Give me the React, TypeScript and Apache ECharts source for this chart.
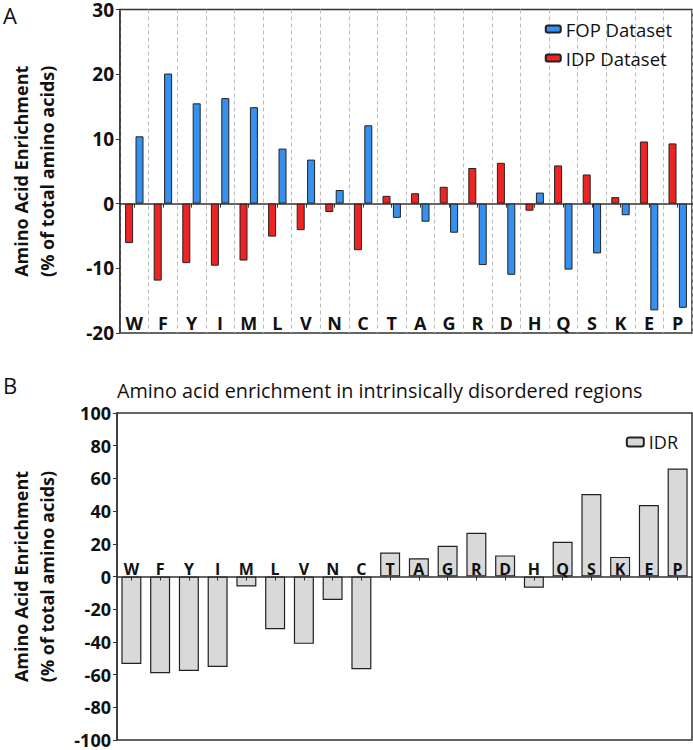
import React, { useEffect, useRef } from "react";
import * as echarts from "echarts";

const categories = ["W", "F", "Y", "I", "M", "L", "V", "N", "C", "T", "A", "G", "R", "D", "H", "Q", "S", "K", "E", "P"];
const fopValues = [10.4, 20.1, 15.5, 16.3, 14.9, 8.5, 6.8, 2.1, 12.1, -2.2, -2.8, -4.5, -9.5, -11.0, 1.7, -10.2, -7.7, -1.8, -16.5, -16.1];
const idpValues = [-6.1, -11.9, -9.2, -9.6, -8.8, -5.1, -4.1, -1.3, -7.2, 1.2, 1.6, 2.6, 5.5, 6.3, -1.1, 5.9, 4.5, 1.0, 9.6, 9.3];
const idrValues = [-53.5, -59.2, -57.8, -55.3, -6.1, -32.2, -41.2, -14.3, -56.7, 14.7, 11.2, 18.8, 26.7, 12.9, -6.9, 21.2, 50.4, 12.0, 43.7, 66.1];
const yTicksA = { min: -20, max: 30, interval: 10 };
const yTicksB = { min: -100, max: 100, interval: 20 };

const FONT = "Open Sans";
const AXIS = "#333";

export default function App() {
  const ref = useRef<HTMLDivElement>(null);
  useEffect(() => {
    if (!ref.current) return;
    const chart = echarts.init(ref.current, undefined, { renderer: "svg" });
    const yName = "Amino Acid Enrichment\n(% of total amino acids)";
    const option: any = {
      animation: false,
      textStyle: { fontFamily: FONT },
      grid: [
        { left: 115, top: 7, width: 577, height: 326, show: true, borderColor: AXIS, borderWidth: 1.5, backgroundColor: "transparent" },
        { left: 112, top: 413, width: 580, height: 327, show: true, borderColor: AXIS, borderWidth: 1.5, backgroundColor: "transparent" },
      ],
      legend: [
        {
          data: ["FOP Dataset", "IDP Dataset"],
          orient: "vertical",
          right: 16,
          top: 13,
          itemWidth: 15,
          itemHeight: 7,
          itemGap: 7,
          textStyle: { fontFamily: FONT, fontSize: 18.5, color: "#111", lineHeight: 22 },
        },
        {
          data: ["IDR"],
          orient: "vertical",
          right: 10,
          top: 428,
          itemWidth: 17,
          itemHeight: 9,
          textStyle: { fontFamily: FONT, fontSize: 18, color: "#111" },
        },
      ],
      xAxis: [
        {
          gridIndex: 0,
          type: "category",
          data: categories,
          axisLine: { onZero: true, lineStyle: { color: AXIS, width: 1.5 } },
          axisTick: { show: true, alignWithLabel: true, length: 4, lineStyle: { color: AXIS } },
          axisLabel: { show: false },
          splitLine: { show: true, interval: 0, lineStyle: { type: [4, 3], color: "#bbb", width: 1 } },
        },
        {
          gridIndex: 0,
          type: "category",
          data: categories,
          position: "bottom",
          axisLine: { show: false, onZero: false },
          axisTick: { show: false },
          axisLabel: { inside: true, margin: 1, interval: 0, fontFamily: FONT, fontSize: 18, fontWeight: "bold", color: "#111" },
          splitLine: { show: false },
        },
        {
          gridIndex: 1,
          type: "category",
          data: categories,
          z: 10,
          axisLine: { onZero: true, lineStyle: { color: AXIS, width: 1.5 } },
          axisTick: { show: true, alignWithLabel: true, length: 4, lineStyle: { color: AXIS } },
          axisLabel: { inside: true, margin: 163, interval: 0, fontFamily: FONT, fontSize: 16, fontWeight: "bold", color: "#111" },
          splitLine: { show: false },
        },
      ],
      yAxis: [
        {
          gridIndex: 0,
          type: "value",
          ...yTicksA,
          name: yName,
          nameLocation: "middle",
          nameGap: 60,
          nameTextStyle: { fontFamily: FONT, fontSize: 18, fontWeight: "bold", color: "#111", lineHeight: 26 },
          axisLine: { show: true, lineStyle: { color: AXIS, width: 1.5 } },
          axisTick: { show: true, length: 4, lineStyle: { color: AXIS } },
          axisLabel: { margin: 6, fontFamily: FONT, fontSize: 19, lineHeight: 14, fontWeight: "bold", color: "#111" },
          splitLine: { show: false },
        },
        {
          gridIndex: 1,
          type: "value",
          ...yTicksB,
          name: yName,
          nameLocation: "middle",
          nameGap: 57,
          nameTextStyle: { fontFamily: FONT, fontSize: 18, fontWeight: "bold", color: "#111", lineHeight: 26 },
          axisLine: { show: true, lineStyle: { color: AXIS, width: 1.5 } },
          axisTick: { show: true, length: 4, lineStyle: { color: AXIS } },
          axisLabel: { margin: 6, fontFamily: FONT, fontSize: 18, lineHeight: 14, fontWeight: "bold", color: "#111" },
          splitLine: { show: false },
        },
      ],
      series: [
        {
          name: "IDP Dataset",
          type: "bar",
          xAxisIndex: 0,
          yAxisIndex: 0,
          data: idpValues,
          barWidth: 8,
          barGap: "30%",
          itemStyle: { color: "#f02323", borderColor: "#222", borderWidth: 1 },
        },
        {
          name: "FOP Dataset",
          type: "bar",
          xAxisIndex: 0,
          yAxisIndex: 0,
          data: fopValues,
          barWidth: 8,
          barGap: "30%",
          itemStyle: { color: "#3590ee", borderColor: "#222", borderWidth: 1 },
        },
        {
          name: "IDR",
          type: "bar",
          xAxisIndex: 2,
          yAxisIndex: 1,
          data: idrValues,
          barWidth: 20,
          itemStyle: { color: "#d9d9d9", borderColor: "#222", borderWidth: 1.2 },
        },
      ],
      graphic: [
        { type: "text", left: 3, top: 4, style: { text: "A", fontFamily: FONT, fontSize: 22, fill: "#111" } },
        { type: "text", left: 3, top: 374, style: { text: "B", fontFamily: FONT, fontSize: 22, fill: "#111" } },
        {
          type: "text",
          left: 117,
          top: 380,
          style: { text: "Amino acid enrichment in intrinsically disordered regions", fontFamily: FONT, fontSize: 19.8, fill: "#111" },
        },
      ],
    };
    chart.setOption(option);
    return () => chart.dispose();
  }, []);
  return <div ref={ref} style={{ position: "fixed", left: 0, top: 0, width: 693, height: 750, background: "#fff" }} />;
}
